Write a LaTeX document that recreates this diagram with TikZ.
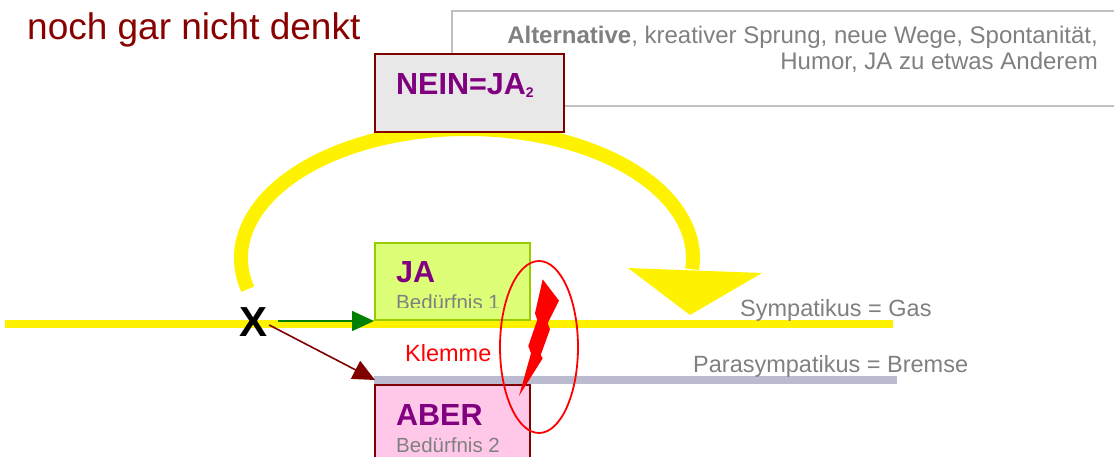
\documentclass[tikz,border=0pt]{standalone}
\usepackage{fontspec}
\setmainfont{Liberation Sans}
\usetikzlibrary{arrows.meta}

\definecolor{titlered}{HTML}{880000}
\definecolor{darkred}{HTML}{800000}
\definecolor{textgray}{HTML}{808080}
\definecolor{framegray}{HTML}{C0C0C0}
\definecolor{boxgray}{HTML}{E8E8E8}
\definecolor{lime}{HTML}{DDFF77}
\definecolor{limeborder}{HTML}{99CC00}
\definecolor{pink}{HTML}{FFC8E8}
\definecolor{purple}{HTML}{800080}
\definecolor{brake}{HTML}{BBBBD0}
\definecolor{gasgreen}{HTML}{008000}

\newcommand{\fs}[1]{\fontsize{#1}{#1}\selectfont}

\tikzset{
  lbl/.style={inner sep=0pt, anchor=base west},
  rlbl/.style={inner sep=0pt, anchor=base east, text=textgray, font=\fs{24}},
  boxnode/.style={draw, line width=2pt, inner sep=0pt, anchor=north west},
  bigword/.style={lbl, text=purple, font=\bfseries\fs{30.5}},
  needword/.style={lbl, text=textgray, font=\fs{20.5}},
  nerve/.style={lbl, text=textgray, font=\fs{23.5}},
  pathyellow/.style={draw=yellow, line width=14pt},
  pointer/.style={line width=1.6pt, -{Triangle[length=22pt, width=20pt]}},
}

\begin{document}
\begin{tikzpicture}[x=1pt, y=-1pt]
\useasboundingbox (0,0) rectangle (1114,457);

% heading
\node[lbl, text=titlered, font=\fs{37}] (title) at (27,40) {noch gar nicht denkt};

% frame with the list of alternatives
\draw[framegray, line width=2pt, fill=white] (1130,11) -- (452,11) -- (452,106) -- (1130,106);
\node[rlbl] (alt1) at (1098,44) {\textbf{Alternative}, kreativer Sprung, neue Wege, Spontanität,};
\node[rlbl] (alt2) at (1098,70) {Humor, JA zu etwas Anderem};

% the jump over the conflict
\draw[pathyellow] (467,258) ++(166:226 and 129)
  arc[start angle=166, end angle=365, x radius=226, y radius=129];
\fill[yellow] (628,268) -- (762,273) -- (690,315) -- cycle;

% NEIN = JA_2
\node[boxnode, draw=darkred, fill=boxgray, minimum width=189pt, minimum height=78pt] (nein) at (374,53) {};
\node[bigword] (neintext) at (396,95) {NEIN=JA\raisebox{-3pt}{\fs{14}2}};

% gas and brake lines
\draw[yellow, line width=8pt] (5,324) -- (893,324);
\draw[brake, line width=8pt] (374,380) -- (897,380);
\node[nerve] (gas) at (740,316) {Sympatikus = Gas};
\node[nerve] (brems) at (693,372) {Parasympatikus = Bremse};

% JA box
\node[boxnode, draw=limeborder, fill=lime, minimum width=155pt, minimum height=77pt] (ja) at (374,242) {};
\node[bigword] (jatext) at (396,282) {JA};
\begin{scope}
  \clip (374,242) rectangle (530,307.5);
  \node[needword] (need1) at (396,309) {Bedürfnis 1};
\end{scope}

% ABER box
\node[boxnode, draw=darkred, fill=pink, minimum width=155pt, minimum height=90pt] (aber) at (374,384) {};
\node[bigword] (abertext) at (396,425) {ABER};
\node[needword] (need2) at (396,452) {Bedürfnis 2};

% the decision point
\node[inner sep=0pt, font=\bfseries\fs{42}] (xmark) at (254,322) {X};
\draw[gasgreen, pointer]
  ([xshift=10pt]xmark.east |- ja.south west) -- (ja.south west);
\draw[darkred, pointer]
  ([shift={(1,3)}]xmark.east) -- ([shift={(1,-4)}]aber.north west);

\node[lbl, text=red, font=\fs{23.5}] (klemme) at (405,361) {Klemme};

% clamp: ring and lightning bolt
\draw[red, line width=1.8pt] (539,347) ellipse [x radius=39, y radius=86];
\fill[red] (542.7,279.3) -- (559,300.7) -- (547.7,323.3) -- (550,329.3) -- (540.7,355)
  -- (542.7,358.3) -- (519,396) -- (531,353.3) -- (528.3,346) -- (537.3,320)
  -- (535,313.3) -- cycle;
\end{tikzpicture}
\end{document}
